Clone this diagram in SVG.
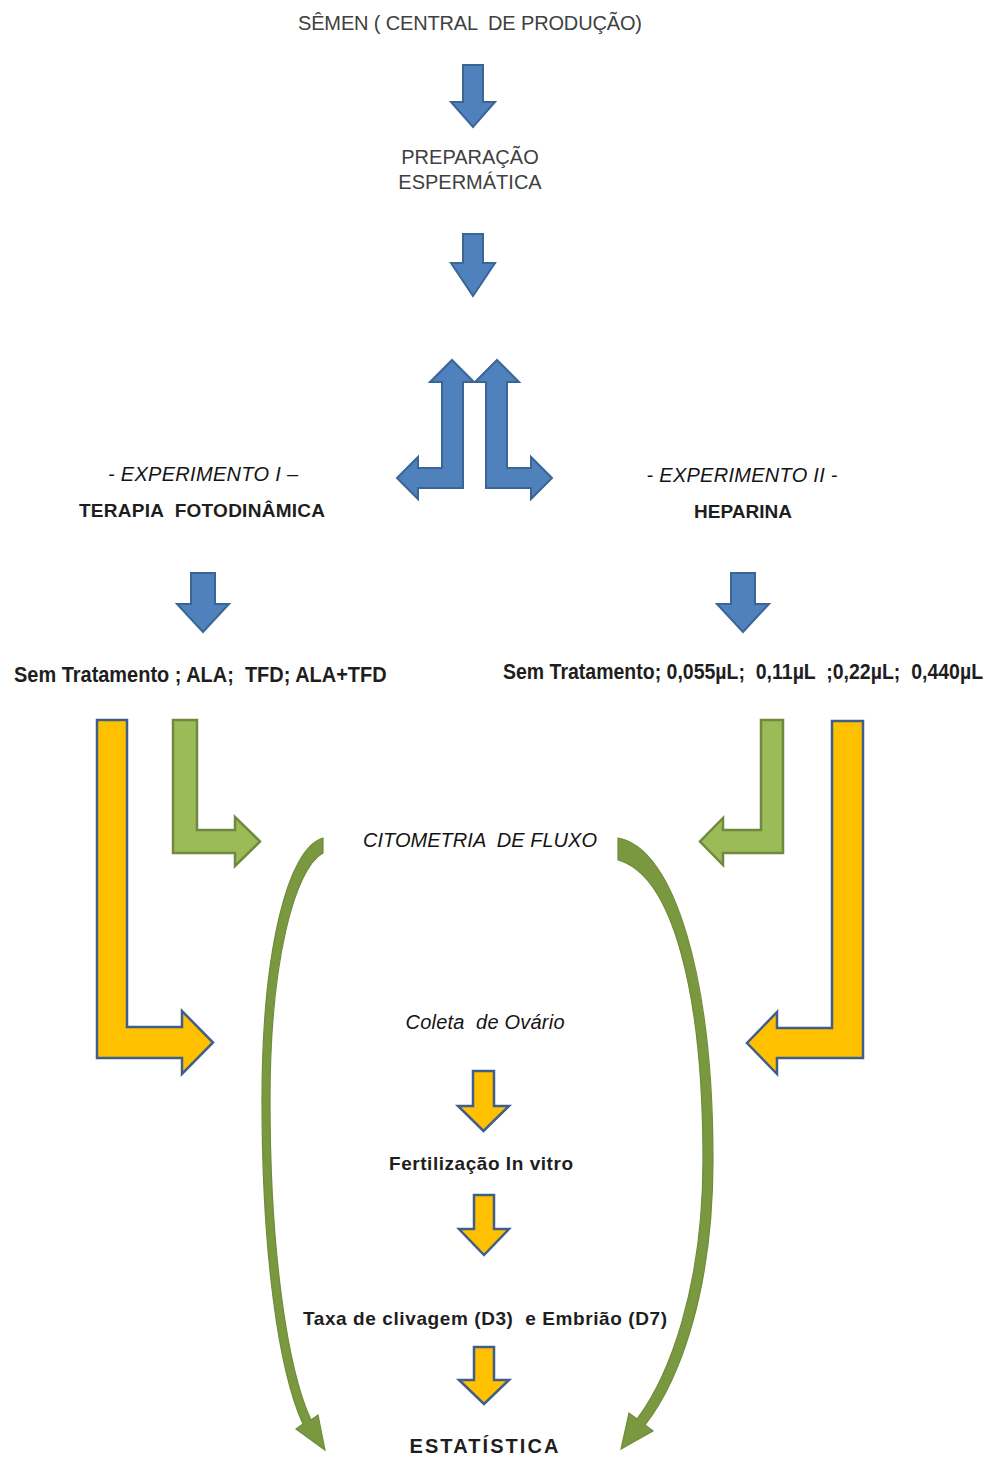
<svg xmlns="http://www.w3.org/2000/svg" width="994" height="1457" viewBox="0 0 994 1457">
<style>
.t{font-family:"Liberation Sans",Arial,sans-serif;fill:#1e1e1e;white-space:pre}
.g{fill:#404040;font-size:20px}
.it{font-style:italic;font-size:20px;fill:#141414}
.b{font-weight:bold}
.blue{fill:#4F81BD;stroke:#3A6595;stroke-width:2;stroke-linejoin:miter}
.yel{fill:#FFC000;stroke:#3F5F8A;stroke-width:2.5;stroke-linejoin:miter}
.grn{fill:#9BBB59;stroke:#71893F;stroke-width:2.5;stroke-linejoin:miter}
.crv{fill:#79983F;stroke:#6E8C3A;stroke-width:1.2}
</style>
<rect width="994" height="1457" fill="#ffffff"/>
<g id="semen"><text class="t g" x="470" y="30" text-anchor="middle" textLength="344">SÊMEN ( CENTRAL  DE PRODUÇÃO)</text></g>
<g id="preparacao"><text class="t g" x="470" y="164" text-anchor="middle">PREPARAÇÃO</text><text class="t g" x="470" y="189" text-anchor="middle">ESPERMÁTICA</text></g>
<g id="exp1"><text class="t it" x="203" y="481" text-anchor="middle" textLength="190">- EXPERIMENTO I –</text><text class="t b" x="202" y="517" font-size="19" text-anchor="middle" textLength="246">TERAPIA  FOTODINÂMICA</text></g>
<g id="exp2"><text class="t it" x="742" y="482" text-anchor="middle" textLength="191">- EXPERIMENTO II -</text><text class="t b" x="743" y="518" font-size="19" text-anchor="middle">HEPARINA</text></g>
<g id="trat1" transform="translate(14,682) scale(0.9,1)"><text class="t b" x="0" y="0" font-size="22" textLength="414" lengthAdjust="spacingAndGlyphs">Sem Tratamento ; ALA;  TFD; ALA+TFD</text></g>
<g id="trat2" transform="translate(503,679) scale(0.876,1)"><text class="t b" x="0" y="0" font-size="22" textLength="548" lengthAdjust="spacingAndGlyphs">Sem Tratamento; 0,055µL;  0,11µL  ;0,22µL;  0,440µL</text></g>
<g id="citometria"><text class="t it" x="480" y="847" text-anchor="middle" textLength="234">CITOMETRIA  DE FLUXO</text></g>
<g id="coleta"><text class="t it" x="485" y="1029" text-anchor="middle" textLength="159">Coleta  de Ovário</text></g>
<g id="fiv"><text class="t b" x="481" y="1170" font-size="19" text-anchor="middle" textLength="184">Fertilização In vitro</text></g>
<g id="taxa"><text class="t b" x="485" y="1325" font-size="19" text-anchor="middle" textLength="364">Taxa de clivagem (D3)  e Embrião (D7)</text></g>
<g id="estatistica"><text class="t b" x="484" y="1453" font-size="20" text-anchor="middle" textLength="149">ESTATÍSTICA</text></g>
<g id="connectors">
<polygon class="blue" points="463,65 483,65 483,102 495,102 473,127 451,102 463,102"/>
<polygon class="blue" points="463,234 483,234 483,263 495,263 473,296 451,263 463,263"/>
<polygon class="blue" points="452,360 474,382 463,382 463,488 418,488 418,499 397,478 418,457 418,468 442,468 442,382 430,382"/>
<polygon class="blue" points="497,360 519,382 507,382 507,468 531,468 531,457 552,478 531,499 531,488 486,488 486,382 475,382"/>
<polygon class="blue" points="191,573 215,573 215,604 229,604 203,632 177,604 191,604"/>
<polygon class="blue" points="731,573 755,573 755,604 769,604 743,632 717,604 731,604"/>
<polygon class="grn" points="173,720 197,720 197,830 235,830 235,817 260,841.5 235,866 235,853 173,853"/>
<polygon class="yel" points="97,720 127,720 127,1027 182,1027 182,1011 213,1042.5 182,1074 182,1058 97,1058"/>
<polygon class="grn" points="761,720 783,720 783,853 723,853 723,865 700,841.5 723,818 723,830 761,830"/>
<polygon class="yel" points="832,721 863,721 863,1058 777,1058 777,1074 747,1043 777,1012 777,1028 832,1028"/>
<path class="crv" d="M323,838 C288,848 262,950 262,1100 C262,1250 278,1370 303,1424 L296,1429 L325,1450 L318,1415 L311,1420 C287,1368 270,1250 270,1100 C270,960 295,868 323,853 Z"/>
<path class="crv" d="M618,838 C675,848 713,980 713,1160 C713,1290 680,1380 645,1425 L653,1431 L621,1449 L629,1413 L637,1419 C668,1378 703,1290 703,1160 C703,990 672,875 618,860 Z"/>
<polygon class="yel" points="473,1071 494,1071 494,1106 509,1106 483.5,1131 458,1106 473,1106"/>
<polygon class="yel" points="474,1195 494,1195 494,1229 509,1229 484,1255 459,1229 474,1229"/>
<polygon class="yel" points="474,1347 494,1347 494,1380 509,1380 484,1404 459,1380 474,1380"/>
</g>
</svg>
